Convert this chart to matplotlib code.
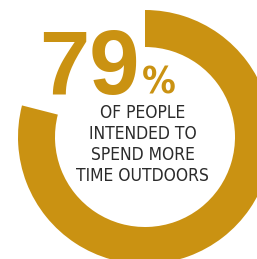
import matplotlib
matplotlib.use("Agg")
import matplotlib.pyplot as plt

# Chart data
SHARE = 79
PARTS = [SHARE, 100 - SHARE]
LINES = ["OF PEOPLE", "INTENDED TO", "SPEND MORE", "TIME OUTDOORS"]

GOLD = "#CA9212"
TEXT = "#2b2b2b"

W, H = 257, 259
fig = plt.figure(figsize=(W / 100, H / 100), dpi=100)
ax = fig.add_axes([0, 0, 1, 1])

# Donut ring, starting at 12 o'clock and running clockwise
ax.pie(PARTS, colors=[GOLD, "none"], startangle=90, counterclock=False,
       radius=127, center=(145, H - 137), wedgeprops=dict(width=37, linewidth=0))

ax.set_xlim(0, W)
ax.set_ylim(0, H)
ax.set_aspect("auto")
ax.axis("off")

ax.text(140, H - 94, f"{SHARE}", ha="right", va="baseline", fontsize=65,
        fontweight="bold", color=GOLD, family=["Liberation Sans", "DejaVu Sans"])
ax.text(142, H - 94, "%", ha="left", va="baseline", fontsize=27,
        fontweight="bold", color=GOLD, family=["DejaVu Sans"], fontstretch="condensed")

for i, line in enumerate(LINES):
    ax.text(142.5, H - (118 + 21 * i), line, ha="center", va="baseline",
            fontsize=12.5, color=TEXT, family=["DejaVu Sans"], fontstretch="condensed")

fig.savefig("out.png", dpi=100)
